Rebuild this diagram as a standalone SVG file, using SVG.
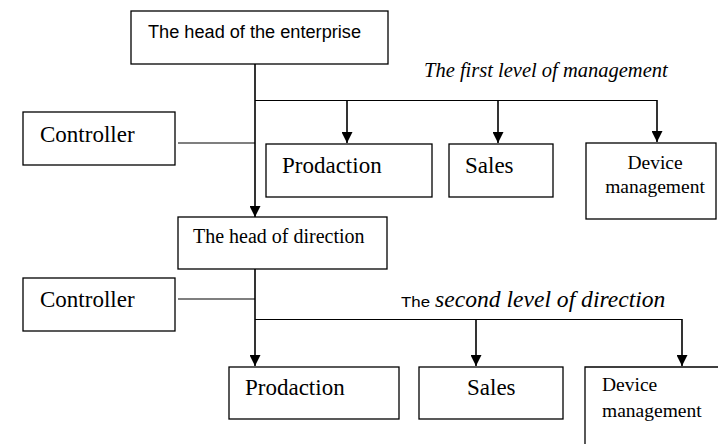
<svg xmlns="http://www.w3.org/2000/svg" width="718" height="444" viewBox="0 0 718 444">
  <style>
    .box { fill: #ffffff; stroke: #000000; stroke-width: 1.3; }
    .wire { fill: none; stroke: #000000; stroke-width: 1.6; }
    .thin { fill: none; stroke: #000000; stroke-width: 1.2; }
    .serif { font-family: "Liberation Serif", "Times New Roman", serif; fill: #000000; }
    .sans { font-family: "Liberation Sans", Arial, sans-serif; fill: #000000; }
    .lbl { font-family: "Liberation Serif", "Times New Roman", serif; font-style: italic; fill: #000000; }
  </style>
  <defs>
    <marker id="arrow" markerUnits="userSpaceOnUse" markerWidth="12" markerHeight="11" refX="11" refY="5.5" orient="auto">
      <path d="M0,0 L11,5.5 L0,11 z" fill="#000000"/>
    </marker>
  </defs>

  <rect width="718" height="444" fill="#ffffff"/>

  <!-- connectors -->
  <g id="connectors">
    <!-- first level -->
    <line class="wire" x1="255" y1="64" x2="255" y2="217" marker-end="url(#arrow)"/>
    <line class="thin" x1="255" y1="100.5" x2="657" y2="100.5"/>
    <line class="wire" x1="347" y1="100.5" x2="347" y2="143" marker-end="url(#arrow)"/>
    <line class="wire" x1="498" y1="100.5" x2="498" y2="143" marker-end="url(#arrow)"/>
    <line class="wire" x1="657" y1="100" x2="657" y2="142" marker-end="url(#arrow)"/>
    <line class="thin" x1="178" y1="143" x2="255" y2="143"/>
    <!-- second level -->
    <line class="wire" x1="255" y1="267" x2="255" y2="366" marker-end="url(#arrow)"/>
    <line class="thin" x1="178" y1="299" x2="255" y2="299"/>
    <line class="thin" x1="255" y1="319.5" x2="682" y2="319.5"/>
    <line class="wire" x1="476" y1="319.5" x2="476" y2="366" marker-end="url(#arrow)"/>
    <line class="wire" x1="682" y1="319" x2="682" y2="366" marker-end="url(#arrow)"/>
  </g>

  <!-- level labels -->
  <text class="lbl" x="424" y="77" font-size="20.5">The first level of management</text>
  <text class="sans" x="401" y="307" font-size="15" textLength="29" lengthAdjust="spacingAndGlyphs">The</text>
  <text class="lbl" x="435" y="307" font-size="23.6">second level of direction</text>

  <!-- nodes -->
  <g id="head-enterprise">
    <rect class="box" x="131" y="11" width="257" height="53"/>
    <text class="sans" x="148" y="38" font-size="18" textLength="213" lengthAdjust="spacingAndGlyphs">The head of the enterprise</text>
  </g>

  <g id="controller-1">
    <rect class="box" x="23" y="112" width="152" height="53"/>
    <text class="serif" x="40" y="142" font-size="23">Controller</text>
  </g>

  <g id="prodaction-1">
    <rect class="box" x="266" y="144" width="166" height="53"/>
    <text class="serif" x="282" y="173" font-size="23">Prodaction</text>
  </g>

  <g id="sales-1">
    <rect class="box" x="449" y="144" width="104" height="53"/>
    <text class="serif" x="465" y="173" font-size="23">Sales</text>
  </g>

  <g id="device-1">
    <rect class="box" x="586" y="143" width="130" height="76"/>
    <text class="serif" x="655" y="169" font-size="19.5" text-anchor="middle">Device</text>
    <text class="serif" x="655" y="193" font-size="19.5" text-anchor="middle">management</text>
  </g>

  <g id="head-direction">
    <rect class="box" x="178" y="217" width="209" height="52"/>
    <text class="serif" x="193" y="243" font-size="20">The head of direction</text>
  </g>

  <g id="controller-2">
    <rect class="box" x="23" y="278" width="152" height="53"/>
    <text class="serif" x="40" y="307" font-size="23">Controller</text>
  </g>

  <g id="prodaction-2">
    <rect class="box" x="229" y="367" width="170" height="52"/>
    <text class="serif" x="245" y="395" font-size="23">Prodaction</text>
  </g>

  <g id="sales-2">
    <rect class="box" x="419" y="367" width="144" height="52"/>
    <text class="serif" x="467" y="395" font-size="23">Sales</text>
  </g>

  <g id="device-2">
    <path class="box" d="M585,446 L585,367 L720,367" fill="none"/>
    <text class="serif" x="602" y="391" font-size="19.5">Device</text>
    <text class="serif" x="602" y="417" font-size="19.5">management</text>
  </g>
</svg>
